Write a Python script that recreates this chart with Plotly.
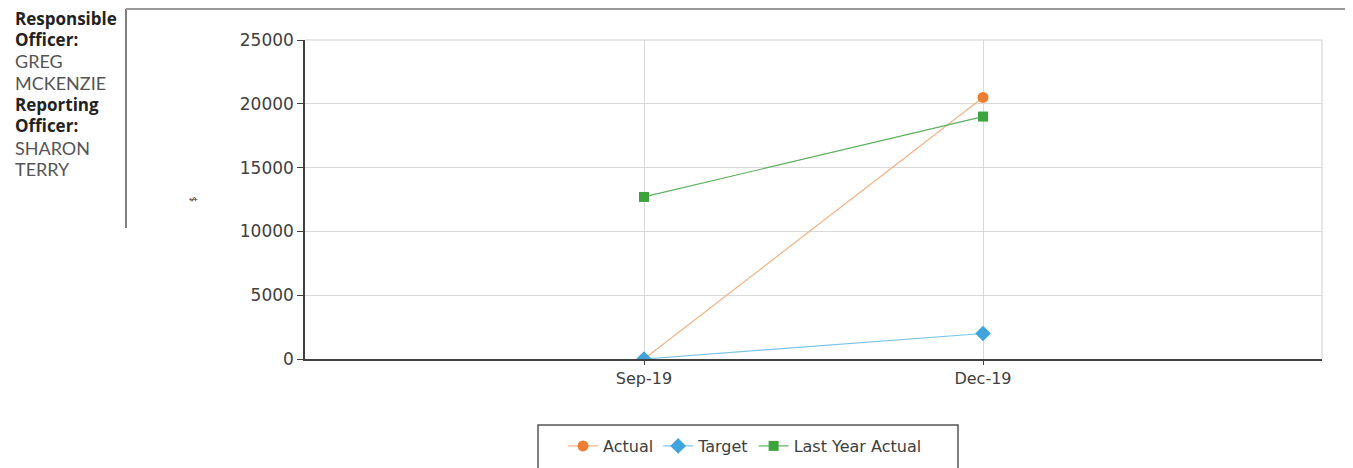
import plotly.graph_objects as go

periods = ["Sep-19", "Dec-19"]
actual = [0, 20500]
target = [0, 2000]
last_year_actual = [12700, 19000]

officer_lines = [
    ("Responsible", True), ("Officer:", True), ("GREG", False), ("MCKENZIE", False),
    ("Reporting", True), ("Officer:", True), ("SHARON", False), ("TERRY", False),
]

# page body adds an 8px margin, so the figure is placed at (8, 8)
OFF = 8
W, H = 1353 - OFF, 468 - OFF
L, T = 305 - OFF, 40 - OFF
R, B = W - (1322 - OFF), H - (359 - OFF)
pw, ph = W - L - R, H - T - B


def px(x):
    return (x - OFF - L) / pw


def py(y):
    return (H - B - (y - OFF)) / ph


fig = go.Figure()
fig.add_trace(go.Scatter(
    x=periods, y=actual, name="Actual", mode="lines+markers",
    line=dict(color="#F4B183", width=1.2),
    marker=dict(symbol="circle", size=11, color="#ED7D31"),
))
fig.add_trace(go.Scatter(
    x=periods, y=target, name="Target", mode="lines+markers",
    line=dict(color="#7CC3E8", width=1.2),
    marker=dict(symbol="diamond", size=12, color="#3FA4DC"),
))
fig.add_trace(go.Scatter(
    x=periods, y=last_year_actual, name="Last Year Actual", mode="lines+markers",
    line=dict(color="#5DAF5D", width=1.2),
    marker=dict(symbol="square", size=10, color="#3CA43C"),
))

# left side officer panel
for i, (txt, bold) in enumerate(officer_lines):
    fig.add_annotation(
        x=px(13), y=py(18 + i * 21.6), xref="paper", yref="paper",
        xanchor="left", yanchor="middle", showarrow=False,
        text=f"<b>{txt}</b>" if bold else txt,
        font=dict(family="Open Sans, sans-serif", size=17, color="#222222") if bold
        else dict(family="Lato, sans-serif", size=18, color="#555555"),
    )

fig.add_shape(type="line", xref="paper", yref="paper",
              x0=px(126), x1=px(126), y0=py(9), y1=py(228),
              line=dict(color="#555555", width=1.5))
fig.add_shape(type="line", xref="paper", yref="paper",
              x0=px(126), x1=px(1353), y0=py(9), y1=py(9),
              line=dict(color="#999999", width=2))
# light plot border top/right
fig.add_shape(type="line", xref="paper", yref="paper",
              x0=0, x1=1, y0=1, y1=1, line=dict(color="#D0D0D0", width=1))
fig.add_shape(type="line", xref="paper", yref="paper",
              x0=1, x1=1, y0=0, y1=1, line=dict(color="#D0D0D0", width=1))
# legend box
fig.add_shape(type="rect", xref="paper", yref="paper",
              x0=px(538), x1=px(958), y0=py(425), y1=py(475),
              line=dict(color="#555555", width=1.5), fillcolor="rgba(0,0,0,0)")

fig.update_layout(
    width=W, height=H,
    margin=dict(l=L, r=R, t=T, b=B, autoexpand=False),
    plot_bgcolor="white", paper_bgcolor="white",
    font=dict(family="DejaVu Sans, sans-serif", size=12, color="#404040"),
    showlegend=True,
    legend=dict(
        orientation="h", x=px(745), xanchor="center",
        yref="container", y=1 - (446 - OFF) / H, yanchor="middle",
        font=dict(size=16, color="#404040"), bgcolor="rgba(0,0,0,0)",
        itemwidth=30,
    ),
    xaxis=dict(
        type="category", range=[-1, 2],
        showgrid=True, gridcolor="#D9D9D9", gridwidth=1,
        showline=True, linecolor="#404040", linewidth=1.5,
        ticks="outside", ticklen=4, tickcolor="#404040",
        tickfont=dict(size=16, color="#404040"),
    ),
    yaxis=dict(
        range=[0, 25000], dtick=5000, tickformat="d",
        showgrid=True, gridcolor="#D9D9D9", gridwidth=1,
        showline=True, linecolor="#404040", linewidth=1.5,
        ticks="outside", ticklen=6, tickcolor="#404040",
        zeroline=False,
        tickfont=dict(size=17, color="#404040"),
        title=dict(text="$", font=dict(size=9, color="#333333"), standoff=42),
    ),
)

fig.write_html("out.html")
